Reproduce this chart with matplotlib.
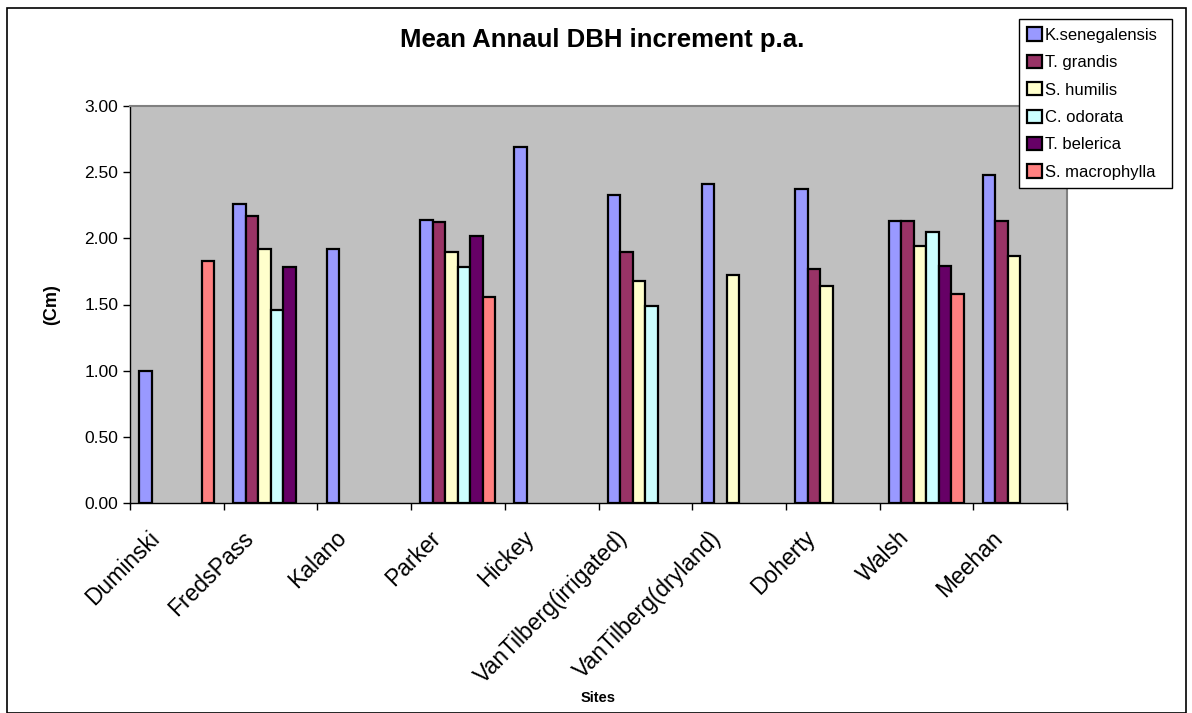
import numpy as np
import matplotlib.pyplot as plt
from matplotlib.patches import Rectangle
from matplotlib.transforms import ScaledTranslation

plt.rcParams['font.family'] = ['Liberation Sans', 'DejaVu Sans']

sites = ['Duminski', 'FredsPass', 'Kalano', 'Parker', 'Hickey',
         'VanTilberg(irrigated)', 'VanTilberg(dryland)', 'Doherty', 'Walsh', 'Meehan']
species = ['K.senegalensis', 'T. grandis', 'S. humilis', 'C. odorata', 'T. belerica', 'S. macrophylla']

# nan = no bar for that site
nan = np.nan
k_senegalensis = [1.00, 2.26, 1.92, 2.14, 2.69, 2.33, 2.41, 2.37, 2.13, 2.48]
t_grandis = [nan, 2.17, nan, 2.12, nan, 1.90, nan, 1.77, 2.13, 2.13]
s_humilis = [nan, 1.92, nan, 1.90, nan, 1.68, 1.72, 1.64, 1.94, 1.87]
c_odorata = [nan, 1.46, nan, 1.78, nan, 1.49, nan, nan, 2.05, nan]
t_belerica = [nan, 1.78, nan, 2.02, nan, nan, nan, nan, 1.79, nan]
s_macrophylla = [1.83, nan, nan, 1.56, nan, nan, nan, nan, 1.58, nan]

series = [k_senegalensis, t_grandis, s_humilis, c_odorata, t_belerica, s_macrophylla]
colors = ['#9999FF', '#993366', '#FFFFCC', '#CCFFFF', '#660066', '#FF8080']

W, H = 1192, 713
fig = plt.figure(figsize=(W / 100, H / 100), dpi=100)

# chart border
fig.patches.append(Rectangle((7 / W, 0), (1186 - 7) / W, (H - 8) / H, transform=fig.transFigure,
                             fill=False, edgecolor='black', linewidth=1.2))

left, right, top, bottom = 130, 1067, 106, 503
ax = fig.add_axes([left / W, 1 - bottom / H, (right - left) / W, (bottom - top) / H])
ax.set_facecolor('#C0C0C0')

x = np.arange(len(sites)) + 0.5
bw = 0.8 / len(series)
handles = []
for i, (vals, col) in enumerate(zip(series, colors)):
    b = ax.bar(x + (i - 2.5) * bw, vals, width=bw, color=col, edgecolor='black', linewidth=1.6)
    handles.append(b)

ax.set_xlim(0, len(sites))
ax.set_ylim(0, 3)
ax.set_yticks(np.arange(0, 3.01, 0.5))
ax.set_yticklabels([f'{v:.2f}' for v in np.arange(0, 3.01, 0.5)], fontsize=12.5)
ax.set_xticks(np.arange(0, len(sites) + 1))
ax.set_xticklabels([])
ax.set_xticks(x, minor=True)
ax.set_xticklabels(sites, minor=True, rotation=45, ha='right', rotation_mode='anchor', fontsize=16.5)
ax.tick_params(axis='x', which='minor', length=0, pad=6)
ax.tick_params(axis='both', which='major', direction='out', length=5, width=1, color='black')
off = ScaledTranslation(-0.29, -0.15, fig.dpi_scale_trans)
for lab in ax.get_xticklabels(minor=True):
    lab.set_transform(lab.get_transform() + off)

for s in ['top', 'right']:
    ax.spines[s].set_color('#808080')
    ax.spines[s].set_linewidth(1.5)
for s in ['left', 'bottom']:
    ax.spines[s].set_color('black')
    ax.spines[s].set_linewidth(1)

fig.text(602 / W, 1 - 40 / H, 'Mean Annaul DBH increment p.a.', ha='center', va='center',
         fontsize=18.5, fontweight='bold')
fig.text(52 / W, 1 - 305 / H, '(Cm)', ha='center', va='center', rotation=90,
         fontsize=13, fontweight='bold')
fig.text(598 / W, 1 - 698 / H, 'Sites', ha='center', va='center', fontsize=10.5, fontweight='bold')

leg = fig.legend(handles, species, loc='upper left',
                 bbox_to_anchor=(1019 / W, 1 - 197 / H, (1172 - 1019) / W, (197 - 19) / H),
                 mode='expand', fontsize=12, frameon=True, fancybox=False,
                 handlelength=0.85, handleheight=0.85, handletextpad=0.2,
                 labelspacing=0.72, borderaxespad=0, borderpad=0.5)
leg.get_frame().set_edgecolor('black')
leg.get_frame().set_linewidth(1)
leg.get_frame().set_alpha(1)

fig.savefig('out.png', dpi=100)
